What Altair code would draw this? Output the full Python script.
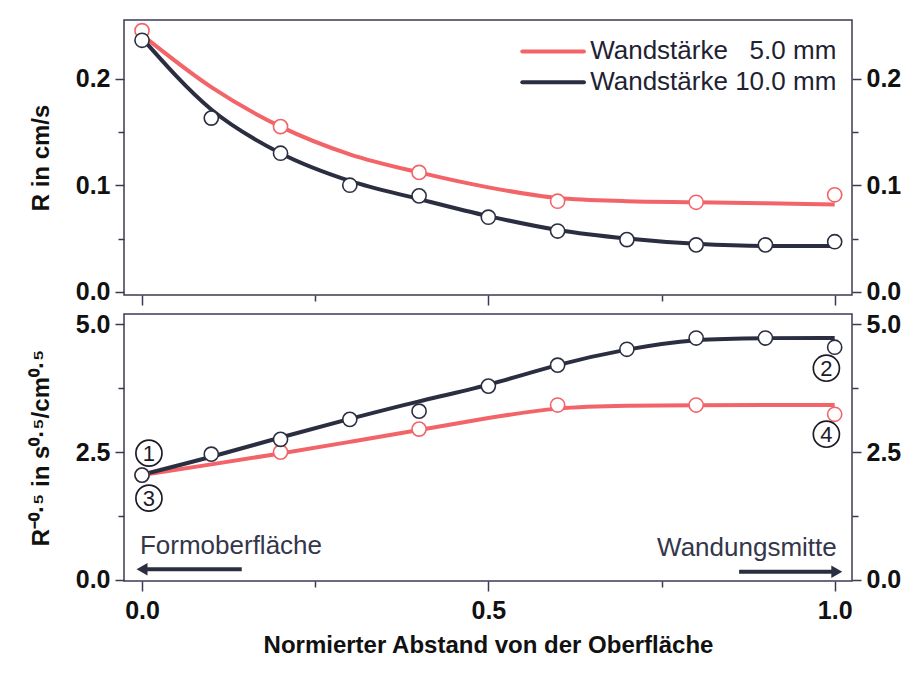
import altair as alt
import pandas as pd

# ---------------- data ----------------
SER5 = "Wandstärke \u20075.0 mm"
SER10 = "Wandstärke 10.0 mm"

line_x = [0.0, 0.1, 0.2, 0.3, 0.4, 0.5, 0.6, 0.7, 0.8, 0.9, 1.0]

# top panel: R in cm/s (fitted curves)
top_line_5 = [0.241, 0.192, 0.155, 0.129, 0.112, 0.098, 0.088, 0.085, 0.084, 0.083, 0.082]
top_line_10 = [0.238, 0.171, 0.130, 0.104, 0.087, 0.071, 0.058, 0.050, 0.045, 0.043, 0.043]
# top panel: measured points
pts_x_5 = [0.0, 0.2, 0.4, 0.6, 0.8, 1.0]
top_pts_5 = [0.245, 0.155, 0.112, 0.085, 0.084, 0.091]
pts_x_10 = [0.0, 0.1, 0.2, 0.3, 0.4, 0.5, 0.6, 0.7, 0.8, 0.9, 1.0]
top_pts_10 = [0.236, 0.163, 0.130, 0.100, 0.090, 0.070, 0.057, 0.049, 0.044, 0.044, 0.047]

# bottom panel: R^-0.5
bot_line_5 = [2.05, 2.26, 2.47, 2.70, 2.93, 3.17, 3.38, 3.41, 3.42, 3.42, 3.42]
bot_line_10 = [2.06, 2.40, 2.79, 3.15, 3.50, 3.80, 4.22, 4.52, 4.72, 4.73, 4.73]
bot_pts_5 = [2.05, 2.50, 2.95, 3.42, 3.42, 3.24]
bot_pts_10 = [2.05, 2.46, 2.75, 3.14, 3.30, 3.79, 4.20, 4.51, 4.73, 4.73, 4.55]

# legend (drawn inside the top panel)
leg_labels = [SER5, SER10]
leg_x = [0.549]
leg_x2 = [0.638]
leg_text_x = [0.647]
leg_y = [0.2255, 0.1965]

# circled labels
circ_x = [0.01, 0.01, 0.988, 0.988]
circ_y = [2.48, 1.60, 4.14, 2.85]
circ_lab = ["1", "3", "2", "4"]

# direction notes
note_text = ["Formoberfläche", "Wandungsmitte"]
note_x = [-0.003, 1.003]
note_y = [0.66, 0.62]
arrow_x = [0.0, 0.862]
arrow_x2 = [0.144, 1.003]
arrow_y = [0.21, 0.16]
arrow_head_x = [0.0, 1.003]
arrow_head_shape = ["triangle-left", "triangle-right"]

RED = "#f26468"
DARK = "#2a2e40"
FRAME = "#3a3b52"
FONT = "Liberation Sans"


def long(xs, a, b):
    rows = [{"x": x, "y": y, "s": SER5} for x, y in zip(xs[0], a)]
    rows += [{"x": x, "y": y, "s": SER10} for x, y in zip(xs[1], b)]
    return pd.DataFrame(rows)


top_lines = long((line_x, line_x), top_line_5, top_line_10)
top_pts = long((pts_x_5, pts_x_10), top_pts_5, top_pts_10)
bot_lines = long((line_x, line_x), bot_line_5, bot_line_10)
bot_pts = long((pts_x_5, pts_x_10), bot_pts_5, bot_pts_10)

W = 728
H_TOP = 275
H_BOT = 267

xscale = alt.Scale(domain=[-0.026, 1.025], nice=False, zero=False)
x_ticks = [0.0, 0.25, 0.5, 0.75, 1.0]
x_tick_size = {"condition": {"test": "datum.value == 0.25 || datum.value == 0.75", "value": 6}, "value": 10}

x_axis_top = alt.Axis(values=x_ticks, labels=False, title=None, domain=False, grid=False,
                      tickColor=FRAME, tickWidth=1.5, tickSize=x_tick_size)
x_axis_bot = alt.Axis(values=x_ticks, domain=False, grid=False, tickColor=FRAME, tickWidth=1.5,
                      tickSize=x_tick_size,
                      labelExpr="datum.value == 0.25 || datum.value == 0.75 ? '' : format(datum.value, '.1f')",
                      labelFont=FONT, labelFontSize=25, labelFontWeight="bold", labelColor="#111111",
                      labelPadding=7,
                      title="Normierter Abstand von der Oberfläche", titleFont=FONT, titleFontSize=24,
                      titleFontWeight="bold", titleColor="#111111", titlePadding=10)


def y_axis(vals, major, fmt, title, orient):
    test = " || ".join(f"datum.value == {v}" for v in vals if v not in major)
    kw = dict(values=vals, domain=False, grid=False, orient=orient, tickColor=FRAME, tickWidth=1.5,
              tickSize={"condition": {"test": test, "value": 6}, "value": 9},
              labelExpr=f"({test}) ? '' : format(datum.value, '{fmt}')",
              labelFont=FONT, labelFontSize=25, labelFontWeight="bold", labelColor="#111111",
              labelPadding=5)
    if title:
        kw.update(title=title, titleFont=FONT, titleFontSize=24, titleFontWeight="bold",
                  titleColor="#111111", titlePadding=22)
    else:
        kw.update(title=None)
    return alt.Axis(**kw)


color_scale = alt.Scale(domain=[SER5, SER10], range=[RED, DARK])

# ---------------- top panel ----------------
ytop = alt.Scale(domain=[-0.003, 0.255], nice=False, zero=False)
top_vals = [0.0, 0.05, 0.1, 0.15, 0.2]

top_line = alt.Chart(top_lines).mark_line(strokeWidth=4, interpolate="monotone").encode(
    x=alt.X("x:Q", scale=xscale, axis=x_axis_top),
    y=alt.Y("y:Q", scale=ytop, axis=y_axis(top_vals, [0.0, 0.1, 0.2], ".1f", "R in cm/s", "left")),
    color=alt.Color("s:N", scale=color_scale, legend=None),
    order=alt.Order("s:N", sort="descending"),
    detail="s:N",
)
top_point = alt.Chart(top_pts).mark_point(shape="circle", size=200, strokeWidth=1.6, opacity=1).encode(
    x=alt.X("x:Q", scale=xscale),
    y=alt.Y("y:Q", scale=ytop, axis=y_axis(top_vals, [0.0, 0.1, 0.2], ".1f", None, "right")),
    stroke=alt.Stroke("s:N", scale=color_scale, legend=None),
    fill=alt.value("white"),
)

leg_df = pd.DataFrame({"s": leg_labels, "y": leg_y, "x": leg_x * 2, "x2": leg_x2 * 2,
                       "tx": leg_text_x * 2})
leg_sym = alt.Chart(leg_df).mark_rule(strokeWidth=4, strokeCap="round").encode(
    x=alt.X("x:Q", scale=xscale), x2="x2:Q",
    y=alt.Y("y:Q", scale=ytop, axis=None),
    color=alt.Color("s:N", scale=color_scale, legend=None),
)
leg_txt = alt.Chart(leg_df).mark_text(font=FONT, fontSize=26, color="#1e2233", align="left",
                                      baseline="middle").encode(
    x=alt.X("tx:Q", scale=xscale), y=alt.Y("y:Q", scale=ytop, axis=None), text="s:N")

top = alt.layer(top_line, top_point, leg_sym, leg_txt).resolve_axis(y="independent").properties(
    width=W, height=H_TOP)

# ---------------- bottom panel ----------------
ybot = alt.Scale(domain=[-0.02, 5.2], nice=False, zero=False)
bot_vals = [0.0, 1.25, 2.5, 3.75, 5.0]
bot_title = "R\u207b\u2070\u00b7\u2075 in s\u2070\u00b7\u2075/cm\u2070\u00b7\u2075"

bot_line = alt.Chart(bot_lines).mark_line(strokeWidth=4, interpolate="basis").encode(
    x=alt.X("x:Q", scale=xscale, axis=x_axis_bot),
    y=alt.Y("y:Q", scale=ybot, axis=y_axis(bot_vals, [0.0, 2.5, 5.0], ".1f", bot_title, "left")),
    color=alt.Color("s:N", scale=color_scale, legend=None),
    detail="s:N",
)
bot_point = alt.Chart(bot_pts).mark_point(shape="circle", size=200, strokeWidth=1.6, opacity=1).encode(
    x=alt.X("x:Q", scale=xscale),
    y=alt.Y("y:Q", scale=ybot, axis=y_axis(bot_vals, [0.0, 2.5, 5.0], ".1f", None, "right")),
    stroke=alt.Stroke("s:N", scale=color_scale, legend=None),
    fill=alt.value("white"),
)

circ_df = pd.DataFrame({"x": circ_x, "y": circ_y, "t": circ_lab})
circ = alt.Chart(circ_df).mark_point(shape="circle", size=680, strokeWidth=1.7, opacity=1,
                                     color="#1c1c28", fill="white", filled=False).encode(
    x=alt.X("x:Q", scale=xscale), y=alt.Y("y:Q", scale=ybot, axis=None))
circ_txt = alt.Chart(circ_df).mark_text(font=FONT, fontSize=22, color="#1c1c28",
                                        baseline="middle", align="center", dy=1).encode(
    x=alt.X("x:Q", scale=xscale), y=alt.Y("y:Q", scale=ybot, axis=None), text="t:N")

notes_df = pd.DataFrame({"x": note_x, "y": note_y, "t": note_text})
note_l = alt.Chart(notes_df.iloc[[0]]).mark_text(font=FONT, fontSize=26, color="#34364a",
                                                 align="left", baseline="middle").encode(
    x=alt.X("x:Q", scale=xscale), y=alt.Y("y:Q", scale=ybot, axis=None), text="t:N")
note_r = alt.Chart(notes_df.iloc[[1]]).mark_text(font=FONT, fontSize=26, color="#34364a",
                                                 align="right", baseline="middle").encode(
    x=alt.X("x:Q", scale=xscale), y=alt.Y("y:Q", scale=ybot, axis=None), text="t:N")

arrow_df = pd.DataFrame({"x": arrow_x, "x2": arrow_x2, "y": arrow_y,
                         "hx": arrow_head_x, "shape": arrow_head_shape})
arrow_shaft = alt.Chart(arrow_df).mark_rule(strokeWidth=4, color=DARK).encode(
    x=alt.X("x:Q", scale=xscale), x2="x2:Q", y=alt.Y("y:Q", scale=ybot, axis=None))
arrow_head = alt.Chart(arrow_df).mark_point(filled=True, size=160, color=DARK, opacity=1).encode(
    x=alt.X("hx:Q", scale=xscale), y=alt.Y("y:Q", scale=ybot, axis=None),
    shape=alt.Shape("shape:N", scale=None, legend=None))

bot = alt.layer(bot_line, bot_point, circ, circ_txt, note_l, note_r, arrow_shaft, arrow_head
                ).resolve_axis(y="independent").properties(width=W, height=H_BOT)

chart = alt.vconcat(top, bot, spacing=4).properties(
    padding={"left": 20, "top": 11, "right": 5, "bottom": 5},
    background="white",
).configure_view(stroke=FRAME, strokeWidth=1.5)

chart.save("out.html", embed_options={"renderer": "svg", "actions": False})
